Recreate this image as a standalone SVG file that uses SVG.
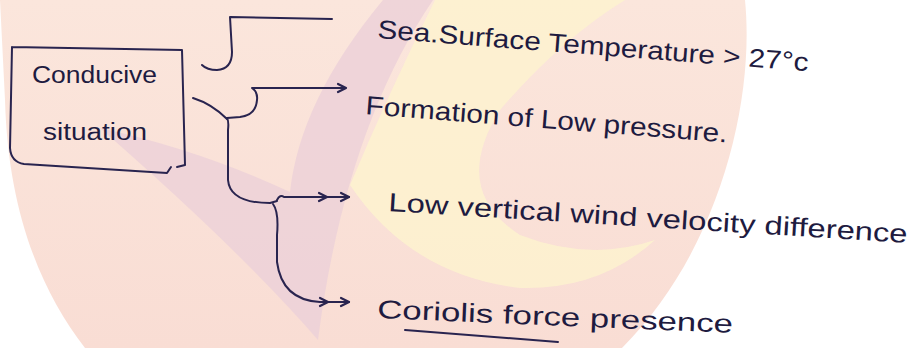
<svg xmlns="http://www.w3.org/2000/svg" xmlns:xlink="http://www.w3.org/1999/xlink" width="915" height="348" viewBox="0 0 915 348">
<style>
.ink{fill:none;stroke:#29244f;stroke-width:2;stroke-linecap:round;stroke-linejoin:round}
.txt{font-family:"Liberation Sans","DejaVu Sans",sans-serif;fill:#1e1b40;font-size:26px}
.box{font-size:23px}
</style>
<defs>
<path id="chev" d="M -8,-4 L 0,0 L -8,4" fill="none" stroke="#29244f" stroke-width="2.2" stroke-linecap="round" stroke-linejoin="round"/>
<linearGradient id="disc" x1="0" y1="0" x2="0" y2="1">
<stop offset="0" stop-color="#fbe6dc"/>
<stop offset="1" stop-color="#f9ddd4"/>
</linearGradient>
</defs>
<rect width="915" height="348" fill="#ffffff"/>
<g id="background">
<path d="M 0,0 L 745,0 C 755,100 720,250 622,348 L 85,348 C 40,290 8,210 5,100 Z" fill="url(#disc)"/>
<path d="M 100,128 Q 200,150 290,192 Q 300,100 383,0 L 433,0 Q 345,130 318,340 Q 240,250 100,128 Z" fill="#ecd1d8" opacity="0.85"/>
<path d="M 435,0 L 625,0 Q 560,40 500,110 Q 450,190 520,235 Q 590,262 655,240 Q 600,290 520,288 Q 410,275 350,185 Q 390,90 435,0 Z" fill="#fdf2cf" opacity="0.85"/>
</g>
<g id="connectors">
<path class="ink" d="M 332,19 L 230,17 L 232,52 Q 232,69 217,70 Q 207,70 202,65"/>
<path class="ink" d="M 345,88 L 252,88 Q 258,92 257,100 Q 256,115 240,117 L 227,118"/>
<use xlink:href="#chev" x="346" y="88"/>
<path class="ink" d="M 193,98 Q 212,104 227,119"/>
<path class="ink" d="M 227,118 Q 229,121 228,130 L 228,180 Q 230,203 270,203 L 277,201"/>
<path class="ink" d="M 277,200 Q 280,194 284,197 L 349,197"/>
<use xlink:href="#chev" x="327" y="197"/>
<use xlink:href="#chev" x="349" y="197"/>
<path class="ink" d="M 273,204 Q 279,212 277,235 L 277,262 Q 282,300 320,302 L 349,302"/>
<use xlink:href="#chev" x="328" y="302"/>
<use xlink:href="#chev" x="349" y="302"/>
</g>
<g id="conducive-situation">
<path class="ink" d="M 12,47 L 182,50 M 182,50 L 185,165 L 177,167 M 12,47 L 10,148 Q 11,162 24,164 L 167,173 L 171,167"/>
<text class="txt box" x="32" y="83" textLength="125" lengthAdjust="spacingAndGlyphs">Conducive</text>
<text class="txt box" x="43" y="140" textLength="104" lengthAdjust="spacingAndGlyphs">situation</text>
</g>
<g id="sea-surface-temperature">
<text class="txt" x="377" y="38" transform="rotate(4.4 377 38)" textLength="432" lengthAdjust="spacingAndGlyphs">Sea.Surface Temperature &gt; 27°c</text>
</g>
<g id="low-pressure">
<text class="txt" x="365" y="114" transform="rotate(4.5 365 114)" textLength="363" lengthAdjust="spacingAndGlyphs">Formation of Low pressure.</text>
</g>
<g id="wind-velocity">
<text class="txt" x="388" y="211" transform="rotate(3.5 388 211)" textLength="520" lengthAdjust="spacingAndGlyphs">Low vertical wind velocity difference</text>
</g>
<g id="coriolis-force">
<text class="txt" x="377" y="318" transform="rotate(2.4 377 318)" textLength="356" lengthAdjust="spacingAndGlyphs">Coriolis force presence</text>
<path class="ink" d="M 405,330 L 558,342"/>
</g>
</svg>
